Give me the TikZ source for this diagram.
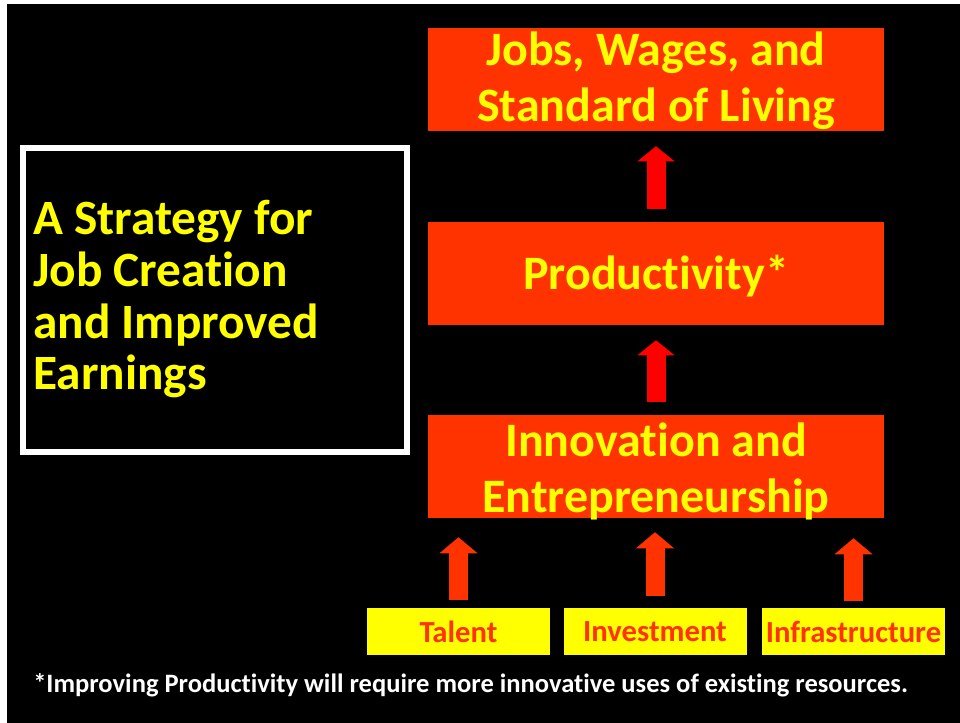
\documentclass[tikz,border=0pt]{standalone}
\usepackage{fontspec}
\setmainfont{Carlito}[Ligatures=NoCommon]
\usetikzlibrary{arrows.meta,positioning}
\definecolor{boxred}{HTML}{FF3300}
\definecolor{signyellow}{HTML}{FFFF00}
\tikzset{
  bigbox/.style={fill=boxred, text=signyellow, inner sep=0pt, minimum width=342pt,
    minimum height=77.25pt, align=center, font=\fontsize{36}{42}\selectfont\bfseries},
  inputbox/.style={fill=signyellow, text=boxred, inner sep=0pt, minimum width=137.25pt,
    minimum height=35.25pt, font=\fontsize{23}{28}\selectfont\bfseries},
  uparrow/.style={draw=red, line width=14.25pt,
    -{Triangle[width=27.75pt,length=11.25pt,line width=0pt]}},
  inarrow/.style={draw=boxred, line width=14.25pt,
    -{Triangle[width=28.5pt,length=12pt,line width=0pt]}}
}

\begin{document}
\begin{tikzpicture}[x=0.75pt,y=-0.75pt]
% slide background
\fill[white] (0,0) rectangle (960,723);
\fill[black] (7,4) rectangle (960,723);

% title frame
\node[draw=white, line width=4.5pt, inner sep=0pt, minimum width=288pt,
      minimum height=228pt] (frame) at (215,300) {};
\node[anchor=base west, inner sep=0pt, align=flush left, text=signyellow,
      font=\fontsize{37}{38.8}\selectfont\bfseries]
      (title) at (33,390)
      {A Strategy for\\Job Creation\\and Improved\\Earnings};

% the chain of boxes
\node[bigbox, text height=63.75pt, text depth=0pt] (jobs) at (656,79.5)
      {Jobs, Wages, and\\Standard of Living};
\node[bigbox, text height=24.75pt, text depth=0pt] (prod) at (656,273.5)
      {Productivity*};
\node[bigbox, text height=68.25pt, text depth=0pt] (innov) at (656,466.5)
      {Innovation and\\Entrepreneurship};

\node[inputbox] (talent) at (458.5,631.5) {Talent};
\node[inputbox] (invest) at (655,631.5) {Investment};
\node[inputbox] (infra) at (853.5,631.5) {Infrastructure};

\draw[uparrow, shorten <=9.75pt, shorten >=11.25pt] (prod) -- (jobs);
\draw[uparrow, shorten <=9.75pt, shorten >=11.25pt] (innov) -- (prod);

\draw[inarrow, shorten <=6pt, shorten >=14.25pt] (talent.north) -- (talent.north |- innov.south);
\draw[inarrow, shorten <=9pt, shorten >=10.5pt] (invest.north) -- (invest.north |- innov.south);
\draw[inarrow, shorten <=5.25pt, shorten >=15pt] (infra.north) -- (infra.north |- innov.south);

% footnote
\node[anchor=base west, inner sep=0pt, text=white, font=\fontsize{19.9}{22}\selectfont\bfseries]
      (note) at (33,692)
      {*Improving Productivity will require more innovative uses of existing resources.};
\end{tikzpicture}
\end{document}
